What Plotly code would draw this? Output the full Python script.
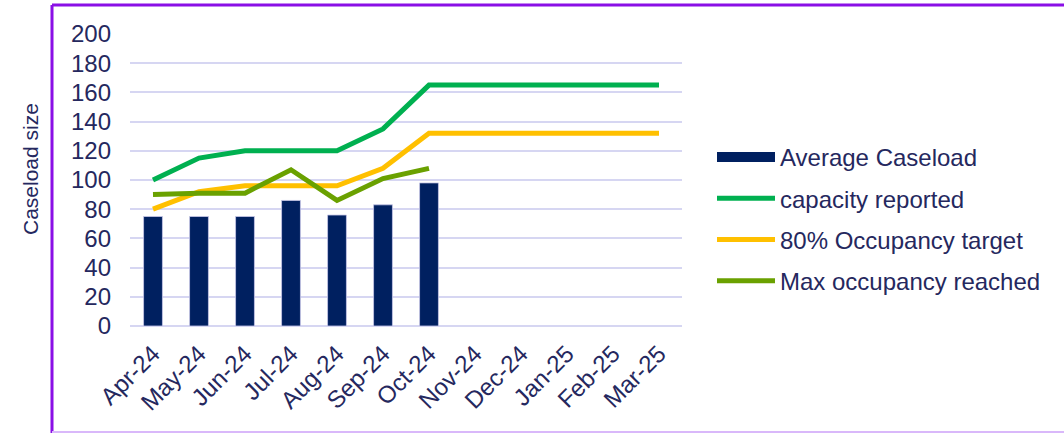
import plotly.graph_objects as go

months = ["Apr-24", "May-24", "Jun-24", "Jul-24", "Aug-24", "Sep-24", "Oct-24",
          "Nov-24", "Dec-24", "Jan-25", "Feb-25", "Mar-25"]
avg_caseload = [75, 75, 75, 86, 76, 83, 98, None, None, None, None, None]
capacity_reported = [100, 115, 120, 120, 120, 135, 165, 165, 165, 165, 165, 165]
occupancy_target = [80, 92, 96, 96, 96, 108, 132, 132, 132, 132, 132, 132]
max_occupancy = [90, 91, 91, 107, 86, 101, 108, None, None, None, None, None]
y_ticks = [0, 20, 40, 60, 80, 100, 120, 140, 160, 180, 200]

TXT = "#25285E"
NAVY = "#002060"
FONT = "Liberation Sans, Arial, sans-serif"

W, H = 1064, 433
L, R, T, B = 130, 382, 34, 107
pw, ph = W - L - R, H - T - B


def px(x):
    return (x - L) / pw


def py(y):
    return (H - B - y) / ph


fig = go.Figure()
fig.add_trace(go.Bar(x=months, y=avg_caseload, marker=dict(color=NAVY, line=dict(color="#C8C8E8", width=0.8)),
                     width=0.41, showlegend=False, name="Average Caseload"))
fig.add_trace(go.Scatter(x=[None], y=[None], mode="lines", name="Average Caseload",
                         line=dict(color=NAVY, width=11), legendgroup="a"))
fig.add_trace(go.Scatter(x=months, y=capacity_reported, mode="lines", name="capacity reported",
                         line=dict(color="#00B050", width=5), legendgroup="b"))
fig.add_trace(go.Scatter(x=months, y=occupancy_target, mode="lines", name="80% Occupancy target",
                         line=dict(color="#FFC000", width=5), legendgroup="c"))
fig.add_trace(go.Scatter(x=months, y=max_occupancy, mode="lines", name="Max occupancy reached",
                         line=dict(color="#6AA100", width=5), legendgroup="d"))

shapes = [
    dict(type="line", xref="paper", yref="paper", x0=px(52), x1=px(W), y0=py(5), y1=py(5),
         line=dict(color="#8A0FE6", width=3)),
    dict(type="line", xref="paper", yref="paper", x0=px(52), x1=px(52), y0=py(5), y1=py(H),
         line=dict(color="#8A0FE6", width=3)),
    dict(type="line", xref="paper", yref="paper", x0=px(52), x1=px(W), y0=py(432), y1=py(432),
         line=dict(color="#D9B8FA", width=2)),
]

fig.update_layout(
    width=W, height=H,
    margin=dict(l=L, r=R, t=T, b=B),
    paper_bgcolor="white", plot_bgcolor="white",
    font=dict(family=FONT, color=TXT, size=24),
    bargap=0.59,
    shapes=shapes,
    xaxis=dict(tickangle=-45, tickfont=dict(size=24, color=TXT), showgrid=False,
               showline=False, ticks="", range=[-0.5, 11.5], ticklabelstandoff=8),
    yaxis=dict(range=[0, 200], tickvals=y_ticks, tickfont=dict(size=24, color=TXT),
               gridcolor="#D6D6F2", gridwidth=1.5, zeroline=True, zerolinecolor="#D6D6F2",
               zerolinewidth=1.5, ticks="", showline=False, ticklabelstandoff=18),
    legend=dict(x=px(712), y=py(135), xanchor="left", yanchor="top",
                font=dict(size=24, color=TXT), tracegroupgap=7,
                itemwidth=58, bgcolor="rgba(0,0,0,0)"),
    annotations=[dict(text="Caseload size", xref="paper", yref="paper", x=px(30), y=py(169),
                      textangle=-90, showarrow=False, font=dict(size=21, color=TXT),
                      xanchor="center", yanchor="middle")],
)

fig.write_html("out.html")
